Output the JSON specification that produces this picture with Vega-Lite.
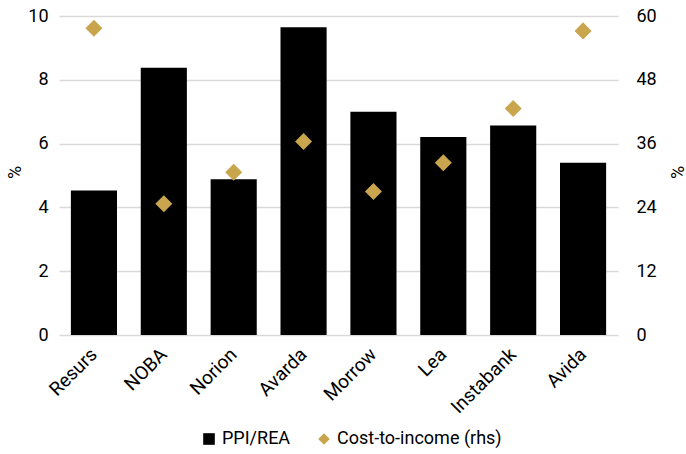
{
  "$schema": "https://vega.github.io/schema/vega-lite/v6.json",
  "width": 559,
  "height": 319,
  "autosize": {"type": "none"},
  "padding": {"left": 59, "top": 16, "right": 68, "bottom": 119},
  "background": "white",
  "config": {
    "font": "Roboto",
    "view": {"stroke": null},
    "axis": {"labelFont": "Roboto", "titleFont": "Roboto", "labelFontSize": 18, "titleFontSize": 18, "labelColor": "#000", "titleColor": "#000", "titleFontWeight": "normal"},
    "legend": {"labelFont": "Roboto", "labelFontSize": 18, "labelColor": "#000"}
  },
  "data": {
    "values": [
      {"bank": "Resurs", "ppi": 4.53, "cti": 57.7},
      {"bank": "NOBA", "ppi": 8.38, "cti": 24.7},
      {"bank": "Norion", "ppi": 4.88, "cti": 30.6},
      {"bank": "Avarda", "ppi": 9.65, "cti": 36.4},
      {"bank": "Morrow", "ppi": 7.0, "cti": 27.0},
      {"bank": "Lea", "ppi": 6.21, "cti": 32.4},
      {"bank": "Instabank", "ppi": 6.57, "cti": 42.6},
      {"bank": "Avida", "ppi": 5.4, "cti": 57.2}
    ]
  },
  "encoding": {
    "x": {
      "field": "bank", "type": "nominal", "sort": null, "title": null,
      "scale": {"paddingInner": 0.34, "paddingOuter": 0.17},
      "axis": {"labelAngle": -45, "labelAlign": "right", "labelBaseline": "middle", "ticks": false, "domain": false, "labelPadding": 16, "labelFontSize": 19}
    }
  },
  "layer": [
    {
      "mark": {"type": "bar", "color": "#000000"},
      "transform": [{"calculate": "'PPI/REA'", "as": "s1"}],
      "encoding": {
        "y": {
          "field": "ppi", "type": "quantitative", "title": "%",
          "scale": {"domain": [0, 10]},
          "axis": {"values": [0, 2, 4, 6, 8, 10], "ticks": false, "domain": false, "gridColor": "#d9d9d9", "gridWidth": 1.5, "labelPadding": 11, "titleX": -44, "titleY": 156, "titleAngle": -90, "titleAlign": "center", "titleBaseline": "middle"}
        },
        "color": {
          "field": "s1", "type": "nominal",
          "scale": {"domain": ["PPI/REA", "Cost-to-income (rhs)"], "range": ["#000000", "#C9A54E"]},
          "legend": {"orient": "none", "legendX": 141, "legendY": 414, "direction": "horizontal", "title": null, "symbolSize": 135, "columnPadding": 24, "labelOffset": 4, "labelLimit": 300}
        }
      }
    },
    {
      "mark": {"type": "point", "filled": true, "size": 290, "opacity": 1},
      "transform": [{"calculate": "'Cost-to-income (rhs)'", "as": "s1"}],
      "encoding": {
        "y": {
          "field": "cti", "type": "quantitative", "title": "%",
          "scale": {"domain": [0, 60]},
          "axis": {"orient": "right", "values": [0, 12, 24, 36, 48, 60], "ticks": false, "domain": false, "grid": false, "labelPadding": 18, "titleX": 60, "titleY": 156, "titleAngle": -90, "titleAlign": "center", "titleBaseline": "middle"}
        },
        "color": {
          "field": "s1", "type": "nominal",
          "legend": {"orient": "none", "legendX": 141, "legendY": 414, "direction": "horizontal", "title": null, "symbolSize": 135, "columnPadding": 24, "labelOffset": 4, "labelLimit": 300}
        },
        "shape": {
          "field": "s1", "type": "nominal",
          "scale": {"domain": ["PPI/REA", "Cost-to-income (rhs)"], "range": ["square", "diamond"]},
          "legend": {"orient": "none", "legendX": 141, "legendY": 414, "direction": "horizontal", "title": null, "symbolSize": 135, "columnPadding": 24, "labelOffset": 4, "labelLimit": 300}
        }
      }
    }
  ],
  "resolve": {"scale": {"y": "independent"}}
}
